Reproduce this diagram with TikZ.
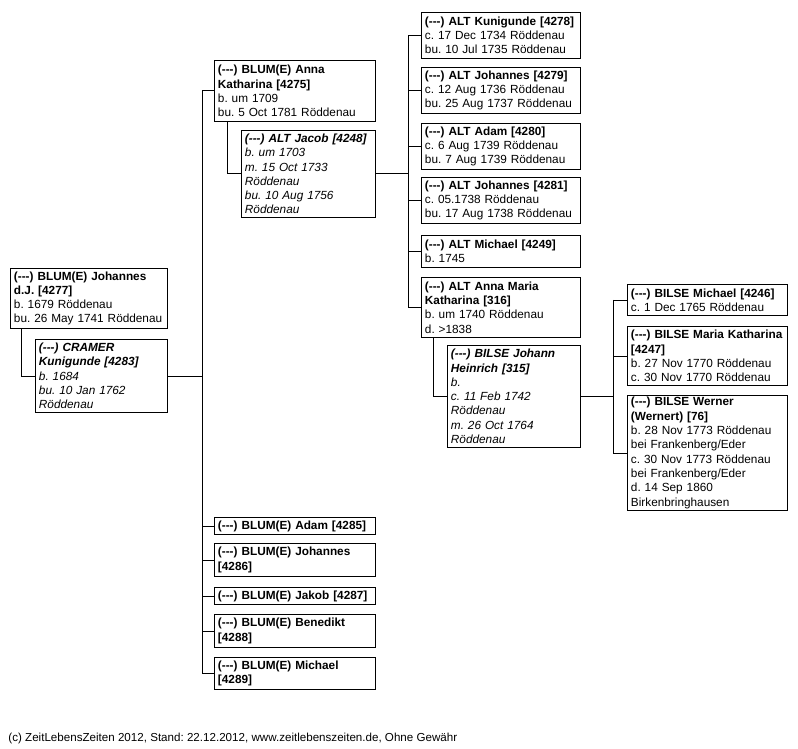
\documentclass[tikz,border=0pt]{standalone}
\usepackage{fontspec}
\setmainfont{Liberation Sans}
\frenchspacing
\hyphenpenalty=10000
\exhyphenpenalty=10000
\newcommand\ddd{-{}-{}-}
\begin{document}
\begin{tikzpicture}[x=1pt,y=-1pt,line width=0.9pt,
  pbox/.style={draw=black, fill=white, anchor=north west, align=left,
    inner xsep=3.5pt, inner ysep=0pt, font=\fontsize{11.8}{14.3}\selectfont},
  conn/.style={draw=black, line width=0.9pt}]
\useasboundingbox (0,0) rectangle (798,749);
\coordinate (s1) at (202,0);
\coordinate (s2) at (408,0);
\coordinate (s3) at (613,0);

% generation 1
\node[pbox, minimum width=157pt, text width=150pt, minimum height=60pt] (johannes) at (10,268)
  {\textbf{(\ddd) BLUM(E) Johannes}\\\textbf{d.J. [4277]}\\b. 1679 Röddenau\\bu. 26 May 1741 Röddenau};
\node[pbox, minimum width=132pt, text width=125pt, minimum height=73pt] (cramer) at (35,339)
  {\textbf{\textit{(\ddd) CRAMER}}\\\textbf{\textit{Kunigunde [4283]}}\\\textit{b. 1684}\\\textit{bu. 10 Jan 1762}\\\textit{Röddenau}};

% generation 2
\node[pbox, minimum width=161pt, text width=154pt, minimum height=61pt] (anna) at (214,60)
  {\textbf{(\ddd) BLUM(E) Anna}\\\textbf{Katharina [4275]}\\b. um 1709\\bu. 5 Oct 1781 Röddenau};
\node[pbox, minimum width=134pt, text width=127pt, minimum height=87pt] (jacob) at (241,130)
  {\textbf{\textit{(\ddd) ALT Jacob [4248]}}\\\textit{b. um 1703}\\\textit{m. 15 Oct 1733}\\\textit{Röddenau}\\\textit{bu. 10 Aug 1756}\\\textit{Röddenau}};
\node[pbox, minimum width=161pt, text width=154pt, minimum height=17pt] (adam85) at (214,517)
  {\textbf{(\ddd) BLUM(E) Adam [4285]}};
\node[pbox, minimum width=161pt, text width=154pt, minimum height=33pt] (joh86) at (214,543)
  {\textbf{(\ddd) BLUM(E) Johannes}\\\textbf{[4286]}};
\node[pbox, minimum width=161pt, text width=154pt, minimum height=17pt] (jakob87) at (214,587)
  {\textbf{(\ddd) BLUM(E) Jakob [4287]}};
\node[pbox, minimum width=161pt, text width=154pt, minimum height=33pt] (bene88) at (214,614)
  {\textbf{(\ddd) BLUM(E) Benedikt}\\\textbf{[4288]}};
\node[pbox, minimum width=161pt, text width=154pt, minimum height=32pt] (mich89) at (214,657)
  {\textbf{(\ddd) BLUM(E) Michael}\\\textbf{[4289]}};

% generation 3
\node[pbox, minimum width=159pt, text width=152pt, minimum height=46pt] (kuni78) at (421,12)
  {\textbf{(\ddd) ALT Kunigunde [4278]}\\c. 17 Dec 1734 Röddenau\\bu. 10 Jul 1735 Röddenau};
\node[pbox, minimum width=159pt, text width=152pt, minimum height=46pt] (joh79) at (421,67)
  {\textbf{(\ddd) ALT Johannes [4279]}\\c. 12 Aug 1736 Röddenau\\bu. 25 Aug 1737 Röddenau};
\node[pbox, minimum width=159pt, text width=152pt, minimum height=46pt] (adam80) at (421,123)
  {\textbf{(\ddd) ALT Adam [4280]}\\c. 6 Aug 1739 Röddenau\\bu. 7 Aug 1739 Röddenau};
\node[pbox, minimum width=159pt, text width=152pt, minimum height=46pt] (joh81) at (421,177)
  {\textbf{(\ddd) ALT Johannes [4281]}\\c. 05.1738 Röddenau\\bu. 17 Aug 1738 Röddenau};
\node[pbox, minimum width=159pt, text width=152pt, minimum height=32pt] (mich49) at (421,235)
  {\textbf{(\ddd) ALT Michael [4249]}\\b. 1745};
\node[pbox, minimum width=159pt, text width=152pt, minimum height=60pt] (annam) at (421,277)
  {\textbf{(\ddd) ALT Anna Maria}\\\textbf{Katharina [316]}\\b. um 1740 Röddenau\\d. >1838};
\node[pbox, minimum width=133pt, text width=126pt, minimum height=102pt] (heinrich) at (447,345)
  {\textbf{\textit{(\ddd) BILSE Johann}}\\\textbf{\textit{Heinrich [315]}}\\\textit{b.}\\\textit{c. 11 Feb 1742}\\\textit{Röddenau}\\\textit{m. 26 Oct 1764}\\\textit{Röddenau}};

% generation 4
\node[pbox, minimum width=160pt, text width=153pt, minimum height=31pt] (mich46) at (627,284)
  {\textbf{(\ddd) BILSE Michael [4246]}\\c. 1 Dec 1765 Röddenau};
\node[pbox, minimum width=160pt, text width=153pt, minimum height=59pt] (mariak) at (627,326)
  {\textbf{(\ddd) BILSE Maria Katharina}\\\textbf{[4247]}\\b. 27 Nov 1770 Röddenau\\c. 30 Nov 1770 Röddenau};
\node[pbox, minimum width=160pt, text width=153pt, minimum height=115pt] (werner) at (627,395)
  {\textbf{(\ddd) BILSE Werner}\\\textbf{(Wernert) [76]}\\b. 28 Nov 1773 Röddenau\\bei Frankenberg/Eder\\c. 30 Nov 1773 Röddenau\\bei Frankenberg/Eder\\d. 14 Sep 1860\\Birkenbringhausen};

% footer
\node[anchor=west, inner sep=0pt, font=\fontsize{11.6}{14.3}\selectfont] (footer) at (8,738)
  {(c) ZeitLebensZeiten 2012, Stand: 22.12.2012, www.zeitlebenszeiten.de, Ohne Gewähr};

% connectors: couples
\draw[conn] ([xshift=11pt]johannes.south west) |- (cramer.west);
\draw[conn] ([xshift=13pt]anna.south west) |- (jacob.west);
\draw[conn] ([xshift=12pt]annam.south west) |- (heinrich.west);

% spine 1
\draw[conn] (cramer.east) -- (cramer.east -| s1);
\draw[conn] (s1 |- anna.west) -- (s1 |- mich89.west);
\foreach \n in {anna,adam85,joh86,jakob87,bene88,mich89}
  \draw[conn] (s1 |- \n.west) -- (\n.west);

% spine 2
\draw[conn] (jacob.east) -- (jacob.east -| s2);
\draw[conn] (s2 |- kuni78.west) -- (s2 |- annam.west);
\foreach \n in {kuni78,joh79,adam80,joh81,mich49,annam}
  \draw[conn] (s2 |- \n.west) -- (\n.west);

% spine 3
\draw[conn] (heinrich.east) -- (heinrich.east -| s3);
\draw[conn] (s3 |- mich46.west) -- (s3 |- werner.west);
\foreach \n in {mich46,mariak,werner}
  \draw[conn] (s3 |- \n.west) -- (\n.west);
\end{tikzpicture}
\end{document}
